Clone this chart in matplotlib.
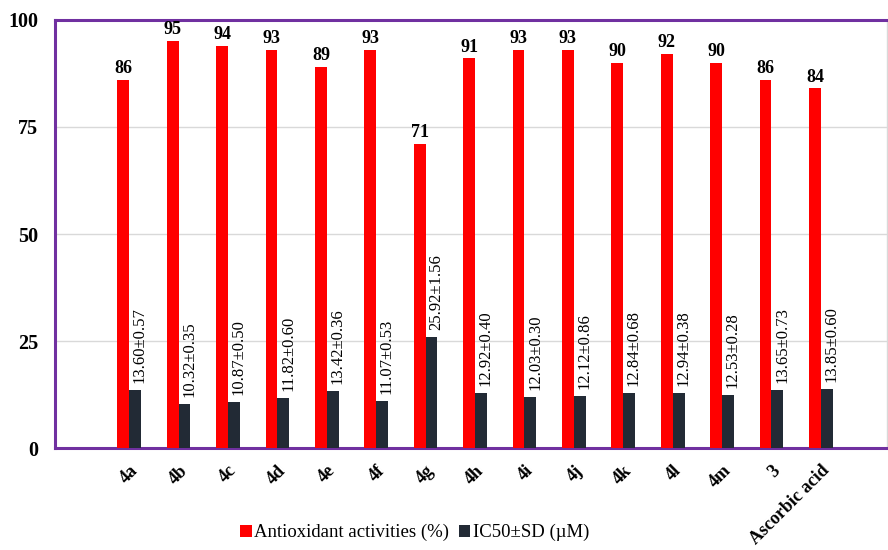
import matplotlib.pyplot as plt
import numpy as np

compounds = ['4a', '4b', '4c', '4d', '4e', '4f', '4g', '4h', '4i', '4j',
             '4k', '4l', '4m', '3', 'Ascorbic acid']
antioxidant = [86, 95, 94, 93, 89, 93, 71, 91, 93, 93, 90, 92, 90, 86, 84]
ic50 = [13.60, 10.32, 10.87, 11.82, 13.42, 11.07, 25.92, 12.92, 12.03, 12.12,
        12.84, 12.94, 12.53, 13.65, 13.85]
ic50_sd = [0.57, 0.35, 0.50, 0.60, 0.36, 0.53, 1.56, 0.40, 0.30, 0.86,
           0.68, 0.38, 0.28, 0.73, 0.60]

plt.rcParams['font.family'] = ['Liberation Serif', 'DejaVu Serif']

fig = plt.figure(figsize=(8.88, 5.5), dpi=100)
ax = fig.add_axes([0.062, 0.185, 0.937, 0.779])

x = np.arange(len(compounds))
w = 0.24
red = ax.bar(x - w / 2, antioxidant, w, color='#FF0000', label='Antioxidant activities (%)', zorder=3)
dark = ax.bar(x + w / 2, ic50, w, color='#222A35', label='IC50±SD (µM)', zorder=3)

for xi, v in zip(x, antioxidant):
    ax.annotate(str(v), xy=(xi - w / 2, v), xytext=(0, 2), textcoords='offset points',
                ha='center', va='bottom', fontsize=13, fontweight='bold')
for xi, v, sd in zip(x, ic50, ic50_sd):
    ax.annotate(f'{v:.2f}±{sd:.2f}', xy=(xi + w * 0.9, v), xytext=(0, 5), textcoords='offset points',
                ha='center', va='bottom', rotation=90, fontsize=12)

ax.set_ylim(0, 100)
ax.set_xlim(-1.5, 15.34)
ax.set_yticks([0, 25, 50, 75, 100])
ax.tick_params(axis='y', length=0, labelsize=14.5, pad=12)
ax.tick_params(axis='x', length=0, labelsize=13, pad=10)
for lab in ax.get_yticklabels():
    lab.set_fontweight('bold')
ax.set_xticks(x)
ax.set_xticklabels(compounds, rotation=45, ha='right', rotation_mode='anchor', fontweight='bold')

ax.grid(axis='y', color='#d9d9d9', linewidth=1, zorder=0)
for side in ['left', 'top', 'bottom']:
    ax.spines[side].set_color('#7030A0')
    ax.spines[side].set_linewidth(2.2)
ax.spines['right'].set_color('#d9d9d9')
ax.spines['right'].set_linewidth(1)

fig.legend(handles=[red, dark], loc='lower center', bbox_to_anchor=(0.467, -0.015), ncol=2,
           frameon=False, fontsize=13.5, handlelength=0.6, handleheight=0.6,
           handletextpad=0.15, columnspacing=0.5)

plt.savefig('out.png', dpi=100)
